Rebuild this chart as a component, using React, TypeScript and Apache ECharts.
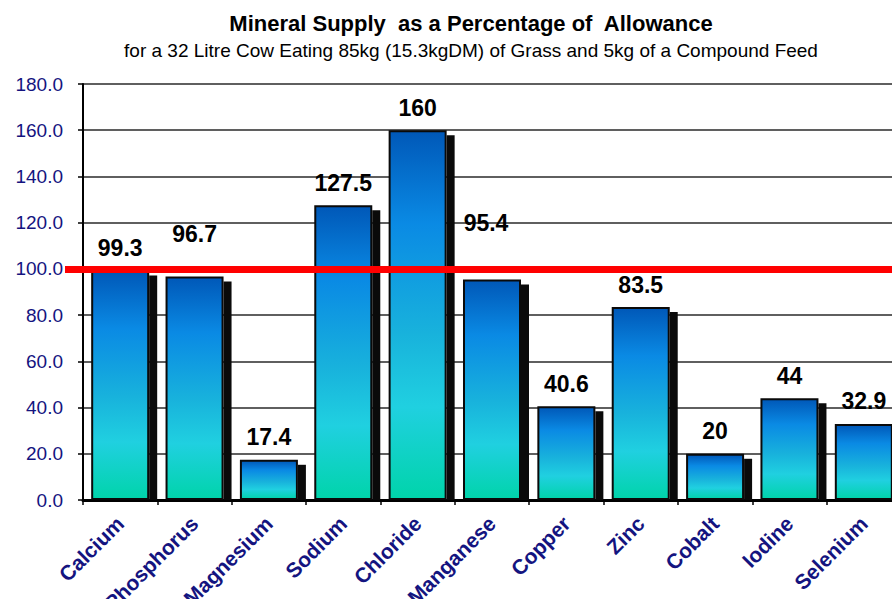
import React, { useEffect, useRef } from "react";
import * as echarts from "echarts";

const categories = [
  "Calcium",
  "Phosphorus",
  "Magnesium",
  "Sodium",
  "Chloride",
  "Manganese",
  "Copper",
  "Zinc",
  "Cobalt",
  "Iodine",
  "Selenium",
];
const supplyPct = [99.3, 96.7, 17.4, 127.5, 160, 95.4, 40.6, 83.5, 20, 44, 32.9];
const allowanceLine = 100;

const titleText = "Mineral Supply  as a Percentage of  Allowance";
const subtitleText =
  "for a 32 Litre Cow Eating 85kg (15.3kgDM) of Grass and 5kg of a Compound Feed";

// label offsets (style only) for labels lifted above the red line
const labelOffsets: Record<string, [number, number]> = {
  Phosphorus: [0, -20],
  Manganese: [-6, -34],
};

const BAR_RATIO = 0.78;
const NAVY = "#14147f";

export default function App() {
  const ref = useRef<HTMLDivElement>(null);
  useEffect(() => {
    if (!ref.current) return;
    const chart = echarts.init(ref.current, null, { renderer: "svg" });
    const barData = supplyPct.map((v, i) => {
      const off = labelOffsets[categories[i]];
      return off ? { value: v, label: { offset: off } } : { value: v };
    });
    chart.setOption({
      animation: false,
      backgroundColor: "#ffffff",
      title: [
        {
          text: titleText,
          left: 466,
          top: 7,
          textAlign: "center",
          textStyle: {
            fontFamily: "Liberation Sans, Arial, sans-serif",
            fontSize: 22,
            fontWeight: "bold",
            color: "#000",
          },
        },
        {
          text: subtitleText,
          left: 466,
          top: 36,
          textAlign: "center",
          textStyle: {
            fontFamily: "Liberation Sans, Arial, sans-serif",
            fontSize: 19,
            fontWeight: "normal",
            color: "#000",
          },
        },
      ],
      grid: {
        left: 83,
        top: 84,
        width: 818,
        height: 416,
        containLabel: false,
        outerBoundsMode: "none",
      },
      xAxis: {
        type: "category",
        data: categories,
        axisLine: { lineStyle: { color: "#000", width: 3 } },
        axisTick: { show: true, length: 5, lineStyle: { color: "#000", width: 1.5 } },
        axisLabel: {
          interval: 0,
          rotate: 45,
          margin: 20,
          color: NAVY,
          fontFamily: "Liberation Sans, Arial, sans-serif",
          fontSize: 21,
          fontWeight: "bold",
        },
        splitLine: { show: false },
      },
      yAxis: {
        type: "value",
        min: 0,
        max: 180,
        interval: 20,
        axisLine: { show: true, lineStyle: { color: "#000", width: 2 } },
        axisTick: { show: true, length: 5, lineStyle: { color: "#000", width: 1.5 } },
        axisLabel: {
          margin: 20,
          color: NAVY,
          fontFamily: "Liberation Sans, Arial, sans-serif",
          fontSize: 19,
          formatter: (v: number) => v.toFixed(1),
        },
        splitLine: { show: true, lineStyle: { color: "#2a2a2a", width: 1.6 } },
      },
      series: [
        {
          type: "custom",
          z: 1,
          data: supplyPct.map((v, i) => [i, v]),
          renderItem: (params: any, api: any) => {
            const i = api.value(0);
            const v = api.value(1);
            const top = api.coord([i, v]);
            const base = api.coord([i, 0]);
            const w = api.size([1, 0])[0] * BAR_RATIO;
            return {
              type: "rect",
              shape: {
                x: top[0] + w / 2,
                y: top[1] + 5,
                width: 8,
                height: Math.max(0, base[1] - top[1] - 5),
              },
              style: { fill: "#0a0a0a" },
            };
          },
          silent: true,
        },
        {
          type: "bar",
          z: 2,
          barWidth: BAR_RATIO * 100 + "%",
          data: barData,
          itemStyle: {
            borderColor: "#0a0a0a",
            borderWidth: 2,
            color: new echarts.graphic.LinearGradient(0, 0, 0, 1, [
              { offset: 0, color: "#0058b8" },
              { offset: 0.25, color: "#0a8ae4" },
              { offset: 0.55, color: "#18b2dc" },
              { offset: 0.75, color: "#20d0e0" },
              { offset: 1, color: "#00d4aa" },
            ]),
          },
          label: {
            show: true,
            position: "top",
            distance: 11,
            color: "#000",
            fontFamily: "Liberation Sans, Arial, sans-serif",
            fontSize: 23,
            fontWeight: "bold",
          },
          markLine: {
            silent: true,
            symbol: "none",
            z: 5,
            label: { show: false },
            lineStyle: { color: "#ff0000", width: 7, type: "solid" },
            data: [[{ x: 65, yAxis: allowanceLine }, { x: 892, yAxis: allowanceLine }]],
          },
        },
      ],
    });
    return () => chart.dispose();
  }, []);
  return (
    <div
      ref={ref}
      style={{ position: "fixed", left: 0, top: 0, width: 892, height: 599, background: "#fff" }}
    />
  );
}
